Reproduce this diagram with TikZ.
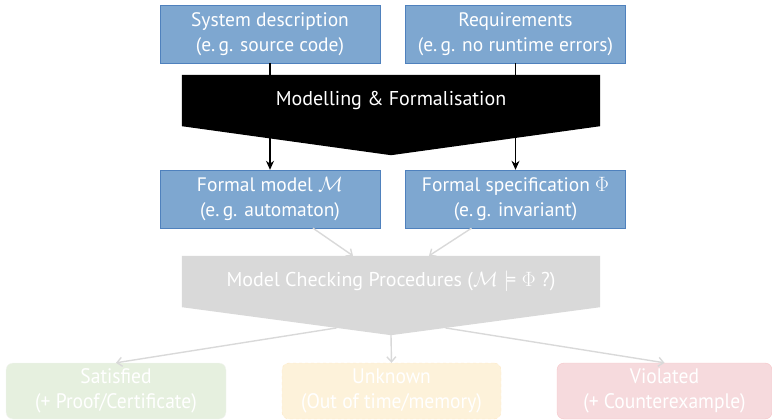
\documentclass[tikz,border=0pt]{standalone}
\usepackage{amsmath}
\usepackage{amssymb}
\usepackage{fontspec}
\setmainfont{PT Sans}
\newfontfamily\narrowfont[FakeStretch=0.93]{PT Sans}
\usetikzlibrary{calc,arrows.meta}

\definecolor{boxblue}{HTML}{7EA7D0}
\definecolor{boxline}{HTML}{4F81BD}
\definecolor{procgray}{HTML}{D9D9D9}
\definecolor{satgreen}{HTML}{E6F0DF}
\definecolor{unkyellow}{HTML}{FDF2DA}
\definecolor{viored}{HTML}{F6DADD}

\pgfdeclarelayer{background}
\pgfsetlayers{background,main}

\tikzset{
	infobox/.style = {draw = boxline, fill = boxblue, text = white, align = center,
		minimum width = 220pt, minimum height = 58pt, inner sep = 0pt,
		font = \fontsize{19.5}{25}\selectfont},
	stagebox/.style = {minimum width = 418pt, minimum height = 51pt, inner sep = 0pt,
		text = white, font = \fontsize{20}{25}\selectfont},
	resultbox/.style = {rounded corners = 7pt, text = white, align = center,
		minimum width = 220pt, minimum height = 56pt, inner sep = 0pt,
		font = \narrowfont\fontsize{21}{25}\selectfont},
	darrow/.style = {-{Stealth[length = 9pt, width = 8pt]}, line width = 1.2pt},
	garrow/.style = {draw = procgray, -{Straight Barb[length = 5pt, width = 9pt]}, line width = 1.4pt}
}

\begin{document}
\begin{tikzpicture}[x = 1pt, y = -1pt]
	\useasboundingbox (0, 0) rectangle (772, 420);

	\node[infobox] (sysdesc) at (270, 34) {System description\\(e.\,g. source code)};
	\node[infobox] (req) at (515.5, 34) {Requirements\\(e.\,g. no runtime errors)};

	\node[stagebox] (modelling) at (391, 100.5) {Modelling \& Formalisation};
	\coordinate (modeltip) at ($(modelling.south) + (0, 29)$);

	\node[infobox] (model) at (270, 199) {Formal model $\mathcal{M}$\\(e.\,g. automaton)};
	\node[infobox] (spec) at (515.5, 199) {Formal specification $\Phi$\\(e.\,g. invariant)};

	\node[stagebox] (checking) at (391, 281.5) {Model Checking Procedures ($\mathcal{M} \models \Phi$ ?)};
	\coordinate (checktip) at ($(checking.south) + (0, 28)$);

	\begin{pgfonlayer}{background}
		\fill[black] (modelling.north west) -- (modelling.north east) -- (modelling.south east)
			-- (modeltip) -- (modelling.south west) -- cycle;
		\fill[procgray] (checking.north west) -- (checking.north east) -- (checking.south east)
			-- (checktip) -- (checking.south west) -- cycle;
	\end{pgfonlayer}

	\node[resultbox, fill = satgreen, draw = satgreen!85!black!20!white] (sat) at (116, 391) {Satisfied\\(+ Proof/Certificate)};
	\node[resultbox, fill = unkyellow, draw = unkyellow!90!orange, dashed, minimum width = 219pt] (unk) at (391.5, 391) {Unknown\\(Out of time/memory)};
	\node[resultbox, fill = viored, draw = viored!90!red, minimum width = 215pt] (vio) at (664.5, 391) {Violated\\(+ Counterexample)};

	\draw[darrow] (sysdesc.south) -- (model.north);
	\draw[darrow] (req.south) -- (spec.north);

	\draw[garrow] ([xshift = 43pt]model.south) -- ([xshift = -38pt]checking.north);
	\draw[garrow] ([xshift = -44pt]spec.south) -- ([xshift = 38pt]checking.north);

	\draw[garrow] ($(checking.south west)!0.74!(checktip)$) -- (sat.north);
	\draw[garrow] (checktip) -- (unk.north);
	\draw[garrow] ($(checking.south east)!0.74!(checktip)$) -- (vio.north);
\end{tikzpicture}
\end{document}
